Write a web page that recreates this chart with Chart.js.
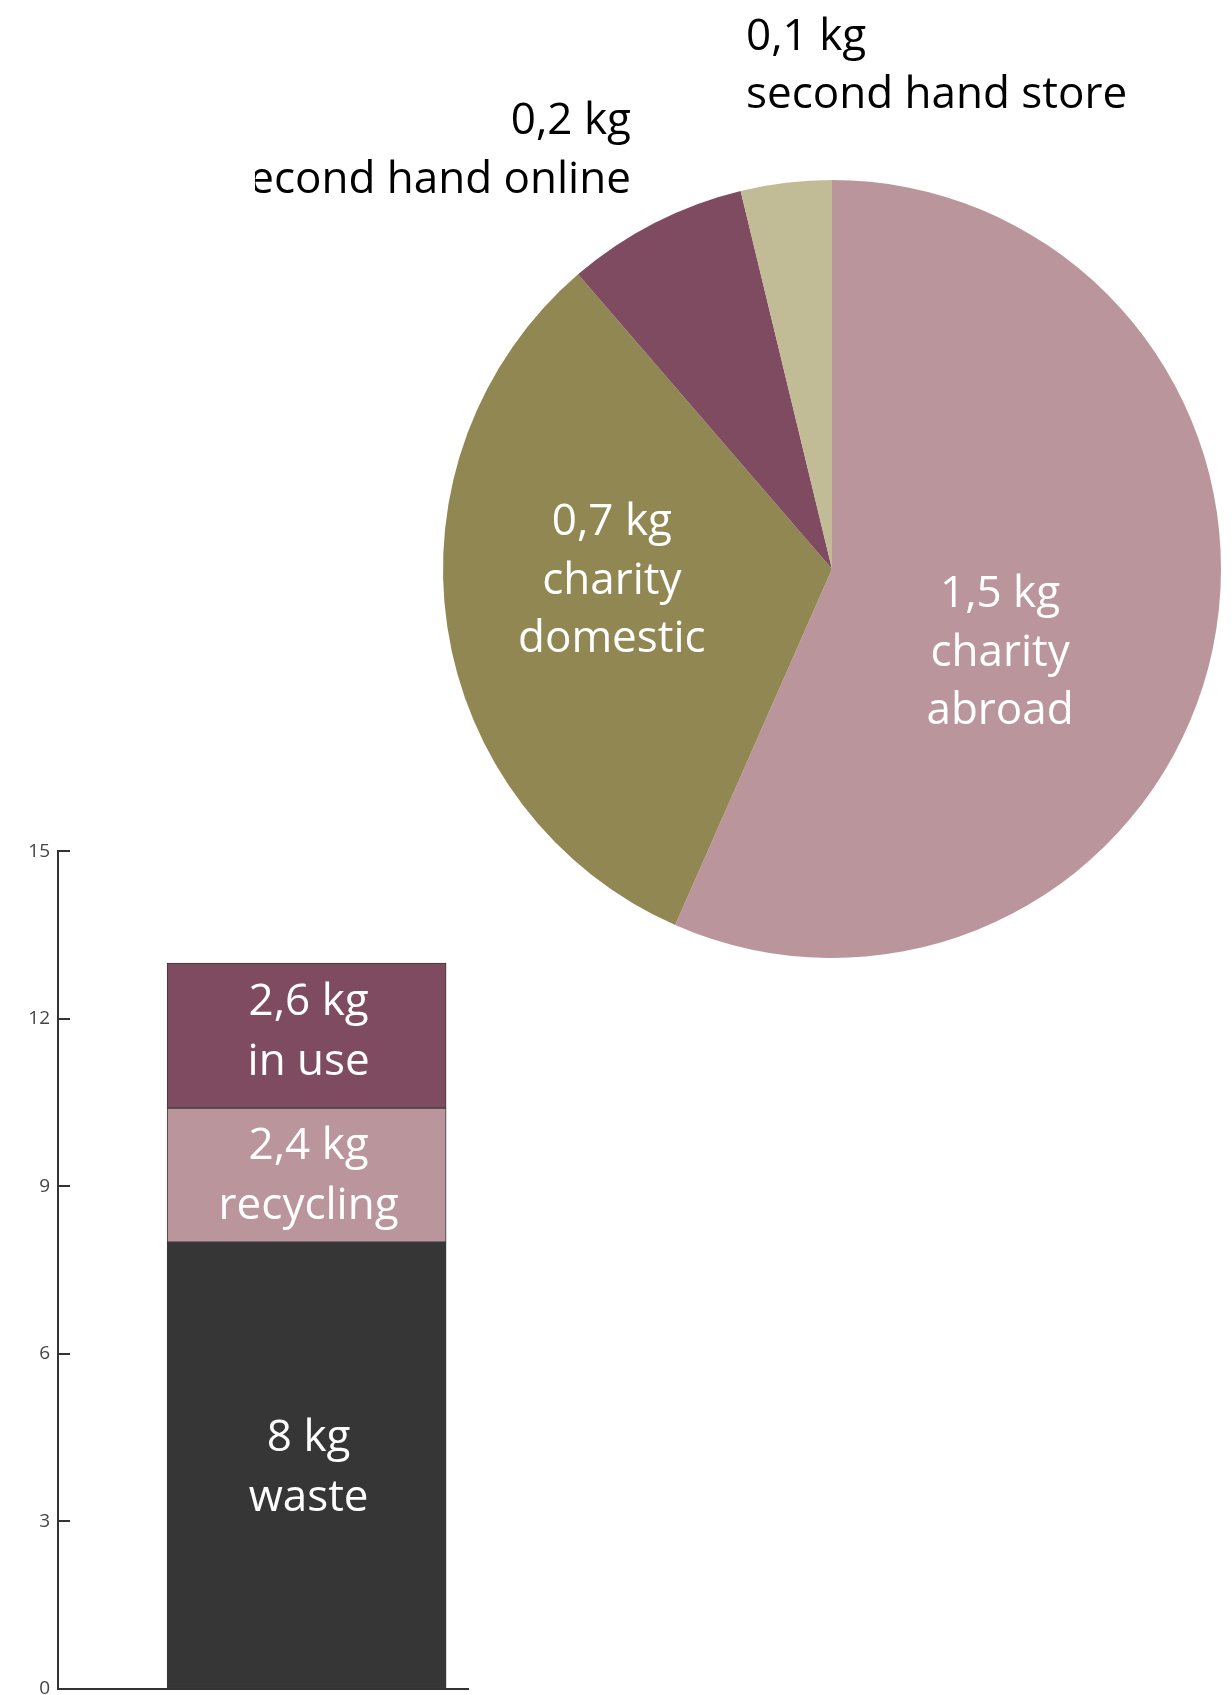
<!DOCTYPE html>
<html>
<head>
<meta charset="utf-8">
<script src="https://cdn.jsdelivr.net/npm/chart.js@4/dist/chart.umd.min.js"></script>
<style>
    html, body { margin: 0; padding: 0; width: 1232px; height: 1695px; overflow: hidden; background: #fff; }
    #cajaBarra { position: absolute; left: 0; top: 820px; width: 480px; height: 900px; }
    #cajaPie { position: absolute; left: 255px; top: 0; width: 977px; height: 980px; }
</style>
</head>
<body>
<div id="cajaBarra"><canvas id="chartBarra"></canvas></div>
<div id="cajaPie"><canvas id="chartPie"></canvas></div>
<script>
// Datos del pastel (destino de la ropa donada)
const destinos = ['charity abroad', 'charity domestic', 'second hand online', 'second hand store'];
const destinoKg = [1.5, 0.85, 0.2, 0.1];
const destinoTextoKg = ['1,5 kg', '0,7 kg', '0,2 kg', '0,1 kg'];

// Datos de la barra apilada
const flujos = ['waste', 'recycling', 'in use'];
const flujoKg = [8, 2.4, 2.6];
const flujoTextoKg = ['8 kg', '2,4 kg', '2,6 kg'];
const ticksEjeY = [0, 3, 6, 9, 12, 15];

// Estilos
const coloresPie = ['#ba969c', '#918752', '#7f4b61', '#c1bb96'];
const coloresBarra = ['#363636', '#ba969c', '#7f4b61'];
const fuente = '"Open Sans", "Noto Sans", sans-serif';
const tamTexto = 44;

// Posicion de las etiquetas del pastel, relativa al radio: [dx, dy, alineacion, color, partir]
const posEtiquetasPie = [
    [0.432, 0.216, 'center', '#ffffff', true],
    [-0.566, 0.032, 'center', '#ffffff', true],
    [-0.517, -1.075, 'right', '#000000', false],
    [-0.221, -1.292, 'left', '#000000', false]
];
// Ajuste vertical (px) de las etiquetas de la barra
const ajusteBarra = [4, 1, -3];
const posicionBarra = 0.617;

$ = (id) => document.getElementById(id);

function dibujarLineas(ctx, lineas, x, y, alto) {
    lineas.forEach((txt, k) => {
        ctx.fillText(txt, x, y + (k - (lineas.length - 1) / 2) * alto);
    });
}

const etiquetasPie = {
    id: 'etiquetasPie',
    afterDatasetsDraw(chart) {
        const ctx = chart.ctx;
        const meta = chart.getDatasetMeta(0);
        ctx.save();
        ctx.font = `${tamTexto}px ${fuente}`;
        ctx.textBaseline = 'middle';
        meta.data.forEach((arco, i) => {
            const [fx, fy, alinear, color, partir] = posEtiquetasPie[i];
            const nombre = partir ? destinos[i].split(' ') : [destinos[i]];
            ctx.fillStyle = color;
            ctx.textAlign = alinear;
            dibujarLineas(ctx, [destinoTextoKg[i], ...nombre],
                arco.x + fx * arco.outerRadius, arco.y + fy * arco.outerRadius, 58.5);
        });
        ctx.restore();
    }
};

const etiquetasBarra = {
    id: 'etiquetasBarra',
    afterDatasetsDraw(chart) {
        const ctx = chart.ctx;
        ctx.save();
        ctx.font = `${tamTexto}px ${fuente}`;
        ctx.textBaseline = 'middle';
        ctx.textAlign = 'center';
        ctx.fillStyle = '#ffffff';
        chart.data.datasets.forEach((ds, i) => {
            const barra = chart.getDatasetMeta(i).data[0];
            dibujarLineas(ctx, [flujoTextoKg[i], flujos[i]], barra.x + 2,
                (barra.y + barra.base) / 2 + ajusteBarra[i], 60);
        });
        ctx.restore();
    }
};

// Grafico de pastel
new Chart($('chartPie').getContext('2d'), {
    type: 'pie',
    data: {
        labels: destinos,
        datasets: [{
            data: destinoKg,
            backgroundColor: coloresPie,
            borderWidth: 0
        }]
    },
    options: {
        responsive: true,
        maintainAspectRatio: false,
        animation: false,
        layout: { padding: { left: 188, right: 11, top: 180, bottom: 22 } },
        plugins: { legend: { display: false }, tooltip: { enabled: false } }
    },
    plugins: [etiquetasPie]
});

// Grafico de barra apilada
new Chart($('chartBarra').getContext('2d'), {
    type: 'bar',
    data: {
        datasets: flujos.map((f, i) => ({
            label: f,
            data: [{ x: posicionBarra, y: flujoKg[i] }],
            backgroundColor: coloresBarra[i],
            borderColor: '#3a3a3a',
            borderWidth: 1,
            borderSkipped: false,
            barThickness: 279
        }))
    },
    options: {
        responsive: true,
        maintainAspectRatio: false,
        animation: false,
        layout: { padding: { left: 0, right: 12, top: 29, bottom: 0 } },
        plugins: { legend: { display: false }, tooltip: { enabled: false } },
        scales: {
            x: {
                type: 'linear',
                min: 0,
                max: 1,
                stacked: true,
                ticks: { display: false },
                grid: { display: false },
                border: { display: true, color: '#333333', width: 2 },
                afterFit: (s) => { s.height = 30; }
            },
            y: {
                min: ticksEjeY[0],
                max: ticksEjeY[ticksEjeY.length - 1],
                stacked: true,
                afterBuildTicks: (s) => { s.ticks = ticksEjeY.map(v => ({ value: v })); },
                ticks: {
                    color: '#444444',
                    padding: 20,
                    font: { family: fuente, size: 19 }
                },
                grid: {
                    drawOnChartArea: false,
                    drawTicks: true,
                    tickLength: -12,
                    color: '#333333',
                    lineWidth: 2
                },
                border: { display: true, color: '#333333', width: 2 },
                afterFit: (s) => { s.width = 58; }
            }
        }
    },
    plugins: [etiquetasBarra]
});
</script>
</body>
</html>
